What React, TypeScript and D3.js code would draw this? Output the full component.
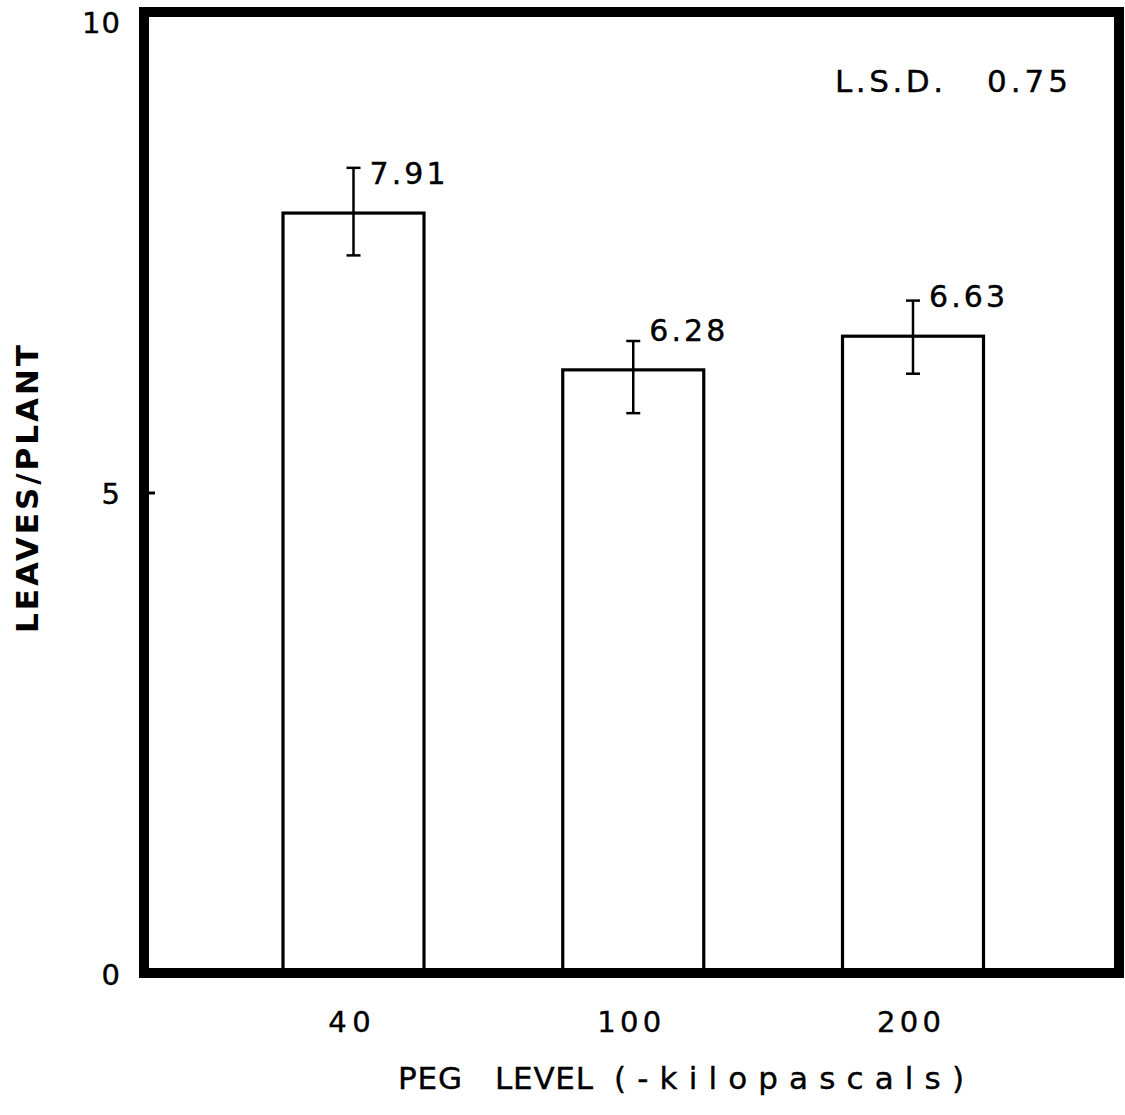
import React, { useEffect, useRef } from 'react';
import * as d3 from 'd3';

// data
const categories = ['40', '100', '200'];
const means = [7.91, 6.28, 6.63];
const upper = [8.38, 6.58, 7.0];
const lower = [7.47, 5.83, 6.24];
const yTicks = [0, 5, 10];
const lsdText = ['L.S.D.', '0.75'];

const font = '"DejaVu Sans", "Liberation Sans", Arial, sans-serif';

const App = () => {
  const ref = useRef<SVGSVGElement | null>(null);

  useEffect(() => {
    if (!ref.current) return;
    const svg = d3.select(ref.current);
    svg.selectAll('*').remove();

    const left = 144,
      right = 1119,
      top = 12,
      bottom = 974;

    const y = d3.scaleLinear().domain([0, 10]).range([bottom, top]);
    const x = d3.scalePoint<string>().domain(categories).range([353.5, 913]);
    const barW = 141;

    // text helper, a touch of stroke for the heavier typewriter look
    const label = (txt, px, py, size, opts: any = {}) => {
      const t = svg
        .append('text')
        .attr('x', px)
        .attr('y', py)
        .attr('font-family', font)
        .attr('font-size', size)
        .attr('fill', 'black')
        .attr('stroke', 'black')
        .attr('stroke-width', 0.4)
        .text(txt);
      if (opts.anchor) t.attr('text-anchor', opts.anchor);
      if (opts.len) t.attr('textLength', opts.len).attr('lengthAdjust', 'spacing');
      return t;
    };

    // bars
    svg
      .selectAll('rect.bar')
      .data(means)
      .enter()
      .append('rect')
      .attr('class', 'bar')
      .attr('x', (d, i) => (x(categories[i]) as number) - barW / 2)
      .attr('y', (d) => y(d))
      .attr('width', barW)
      .attr('height', (d) => bottom - y(d))
      .attr('fill', 'white')
      .attr('stroke', 'black')
      .attr('stroke-width', 3.2);

    // error bars
    const eb = svg.append('g').attr('stroke', 'black').attr('stroke-width', 2.5);
    means.forEach((m, i) => {
      const cx = x(categories[i]) as number;
      eb.append('line').attr('x1', cx).attr('x2', cx).attr('y1', y(upper[i])).attr('y2', y(lower[i]));
      eb.append('line').attr('x1', cx - 7).attr('x2', cx + 7).attr('y1', y(upper[i])).attr('y2', y(upper[i]));
      eb.append('line').attr('x1', cx - 7).attr('x2', cx + 7).attr('y1', y(lower[i])).attr('y2', y(lower[i]));
    });

    // value labels
    means.forEach((m, i) => {
      label(m.toFixed(2), (x(categories[i]) as number) + 16, y(m) - 29, 30, { len: 76 });
    });

    // frame
    svg
      .append('rect')
      .attr('x', left)
      .attr('y', top)
      .attr('width', right - left)
      .attr('height', bottom - top - 1)
      .attr('fill', 'none')
      .attr('stroke', 'black')
      .attr('stroke-width', 10);

    // tick at 5
    svg
      .append('line')
      .attr('x1', left)
      .attr('x2', 155)
      .attr('y1', y(5))
      .attr('y2', y(5))
      .attr('stroke', 'black')
      .attr('stroke-width', 3);

    // y tick labels
    yTicks.forEach((d) => {
      const s = String(d);
      label(s, 120, d === 10 ? y(d) + 21 : y(d) + 11, 29, { anchor: 'end', len: s.length * 19 });
    });

    // x tick labels
    categories.forEach((d) => {
      label(d, (x(d) as number) - 4, 1032, 29, { anchor: 'middle', len: d.length * 21.3 });
    });

    // x axis title
    label('PEG', 398, 1089, 31, { len: 64 });
    label('LEVEL', 495, 1089, 31, { len: 98 });
    label('(-kilopascals)', 614, 1089, 31, { len: 350 });

    // y axis title
    svg
      .append('text')
      .attr('transform', 'translate(38,489) rotate(-90)')
      .attr('text-anchor', 'middle')
      .attr('font-family', font)
      .attr('font-size', 31)
      .attr('font-weight', 'bold')
      .attr('textLength', 288)
      .attr('lengthAdjust', 'spacing')
      .text('LEAVES/PLANT');

    // L.S.D. note
    label(lsdText[0], 835, 92, 31, { len: 108 });
    label(lsdText[1], 987, 92, 31, { len: 81 });
  }, []);

  return (
    <svg
      ref={ref}
      width={1125}
      height={1115}
      style={{ position: 'absolute', left: 0, top: 0, background: 'white' }}
    />
  );
};

export default App;
